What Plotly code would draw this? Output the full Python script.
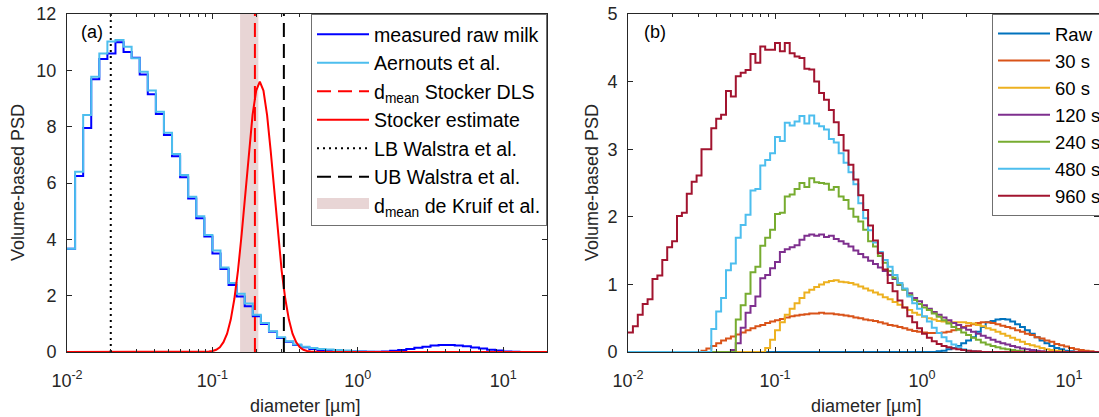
import numpy as np
import plotly.graph_objects as go

# ---------------- data ----------------
D_MIN = 0.01                      # first bin edge [um]
LEFT_BINS_PER_DECADE = 18         # panel (a) size classes
RIGHT_BINS_PER_DECADE = 30        # panel (b) size classes
LEFT_NBINS = 60
RIGHT_NBINS = 100

# panel (a): volume-based PSD per size class
AERNOUTS = [3.67, 6.40, 8.41, 9.77, 10.60, 11.02, 11.08, 10.84, 10.43, 9.95,
            9.28, 8.53, 7.78, 7.03, 6.28, 5.51, 4.82, 4.15, 3.60, 3.00,
            2.45, 2.07, 1.72, 1.32, 1.03, 0.74, 0.52, 0.38, 0.27, 0.19,
            0.14, 0.11, 0.09, 0.07, 0.05, 0.03, 0.02, 0.01]
MEASURED = [3.67, 6.25, 7.95, 9.68, 10.40, 10.60, 11.00, 10.65, 10.45, 9.85,
            9.15, 8.45, 7.70, 6.95, 6.20, 5.45, 4.75, 4.10, 3.50, 2.95,
            2.38, 1.97, 1.62, 1.27, 0.99, 0.72, 0.50, 0.36, 0.25, 0.17,
            0.11, 0.07, 0.05, 0.04, 0.03, 0.02, 0.02, 0.01, 0.01, 0.02,
            0.04, 0.07, 0.11, 0.15, 0.19, 0.23, 0.25, 0.25, 0.23, 0.20,
            0.16, 0.12, 0.08, 0.05, 0.02, 0.01]

STOCKER_D = [0.01, 0.085, 0.0946, 0.1002, 0.1062, 0.1125, 0.1191, 0.1262, 0.1337,
             0.1416, 0.1500, 0.1589, 0.1683, 0.1782, 0.1888, 0.2000, 0.2118,
             0.2244, 0.2377, 0.2518, 0.2667, 0.2825, 0.2992, 0.3170, 0.3357,
             0.3556, 0.3767, 0.3990, 0.4227, 0.4477, 0.4742, 0.56, 20.0]
STOCKER_PSD = [0, 0, 0.014, 0.035, 0.08, 0.17, 0.35, 0.65, 1.15,
               1.89, 2.90, 4.18, 5.64, 7.12, 8.41, 9.28, 9.60,
               9.28, 8.41, 7.12, 5.64, 4.18, 2.90, 1.89, 1.15,
               0.65, 0.35, 0.17, 0.08, 0.035, 0.014, 0, 0]

D_MEAN_STOCKER_DLS = 0.196
LB_WALSTRA = 0.02
UB_WALSTRA = 0.31
D_MEAN_DE_KRUIF = [0.155, 0.207]

# panel (b): series given as (first non-zero class, values)
RIGHT_LABELS = ["Raw", "30 s", "60 s", "120 s", "240 s", "480 s", "960 s"]
RIGHT_START = [63, 15, 28, 21, 22, 17, 0]
PSD_RAW = [0.01, 0.02, 0.04, 0.06, 0.09, 0.13, 0.17, 0.22, 0.30, 0.37, 0.44, 0.46,
           0.48, 0.49, 0.48, 0.45, 0.41, 0.37, 0.32, 0.27, 0.22, 0.17, 0.13, 0.09,
           0.06, 0.04, 0.02, 0.01]
PSD_30 = [0.02, 0.05, 0.09, 0.13, 0.17, 0.20, 0.23, 0.26, 0.29, 0.32, 0.35, 0.38,
          0.40, 0.43, 0.45, 0.47, 0.49, 0.51, 0.53, 0.54, 0.55, 0.56, 0.57, 0.57,
          0.58, 0.57, 0.57, 0.56, 0.55, 0.54, 0.53, 0.51, 0.50, 0.48, 0.47, 0.46,
          0.44, 0.42, 0.40, 0.39, 0.37, 0.35, 0.33, 0.31, 0.30, 0.29, 0.28, 0.28,
          0.28, 0.29, 0.30, 0.32, 0.34, 0.37, 0.39, 0.41, 0.43, 0.44, 0.44, 0.43,
          0.41, 0.39, 0.37, 0.35, 0.32, 0.30, 0.27, 0.25, 0.22, 0.20, 0.17, 0.15,
          0.12, 0.10, 0.08, 0.06, 0.04, 0.03, 0.02, 0.01]
PSD_60 = [0.06, 0.18, 0.32, 0.44, 0.55, 0.64, 0.72, 0.80, 0.88, 0.92, 0.96, 1.00,
          1.03, 1.05, 1.06, 1.04, 1.03, 1.02, 1.00, 0.97, 0.94, 0.91, 0.88, 0.85,
          0.81, 0.78, 0.74, 0.70, 0.66, 0.62, 0.58, 0.55, 0.52, 0.50, 0.48, 0.46,
          0.45, 0.44, 0.44, 0.44, 0.44, 0.43, 0.42, 0.40, 0.38, 0.35, 0.33, 0.30,
          0.27, 0.24, 0.21, 0.18, 0.15, 0.12, 0.10, 0.08, 0.06, 0.04, 0.03, 0.02,
          0.01]
PSD_120 = [0.03, 0.13, 0.36, 0.58, 0.68, 0.82, 1.09, 1.14, 1.24, 1.33, 1.48, 1.52,
           1.55, 1.58, 1.66, 1.72, 1.74, 1.72, 1.74, 1.70, 1.72, 1.67, 1.64, 1.60,
           1.56, 1.50, 1.45, 1.40, 1.35, 1.30, 1.25, 1.20, 1.14, 1.08, 0.99, 0.93,
           0.87, 0.80, 0.75, 0.69, 0.64, 0.59, 0.55, 0.51, 0.47, 0.43, 0.40, 0.36,
           0.33, 0.30, 0.27, 0.24, 0.21, 0.18, 0.15, 0.13, 0.11, 0.09, 0.07, 0.05,
           0.04, 0.03, 0.02, 0.01]
PSD_240 = [0.48, 0.69, 0.86, 1.18, 1.26, 1.57, 1.69, 1.81, 2.04, 2.06, 2.30, 2.33,
           2.41, 2.50, 2.44, 2.57, 2.51, 2.50, 2.49, 2.40, 2.44, 2.30, 2.25, 2.12,
           2.00, 1.93, 1.81, 1.64, 1.56, 1.42, 1.32, 1.20, 1.10, 1.00, 0.92, 0.84,
           0.77, 0.71, 0.66, 0.62, 0.57, 0.52, 0.47, 0.42, 0.37, 0.33, 0.29, 0.25,
           0.21, 0.18, 0.14, 0.11, 0.09, 0.07, 0.05, 0.04, 0.03, 0.02, 0.01]
PSD_480 = [0.34, 0.60, 0.80, 1.21, 1.31, 1.69, 1.88, 2.03, 2.39, 2.41, 2.76, 2.84,
           2.94, 3.18, 3.12, 3.39, 3.35, 3.41, 3.49, 3.38, 3.50, 3.38, 3.34, 3.29,
           3.15, 3.10, 2.94, 2.80, 2.66, 2.48, 2.20, 1.98, 1.80, 1.62, 1.48, 1.36,
           1.26, 1.14, 1.02, 0.94, 0.82, 0.72, 0.64, 0.53, 0.45, 0.36, 0.28, 0.22,
           0.16, 0.11, 0.07, 0.04, 0.02, 0.01]
PSD_960 = [0.29, 0.38, 0.55, 0.71, 0.78, 1.08, 1.13, 1.36, 1.55, 1.64, 2.01, 2.06,
           2.34, 2.52, 2.61, 3.00, 3.00, 3.31, 3.45, 3.51, 3.86, 3.78, 4.08, 4.13,
           4.17, 4.41, 4.28, 4.52, 4.47, 4.47, 4.57, 4.45, 4.57, 4.42, 4.37, 4.35,
           4.19, 4.18, 4.00, 3.83, 3.73, 3.58, 3.40, 3.21, 2.98, 2.77, 2.55, 2.32,
           2.10, 1.87, 1.65, 1.46, 1.22, 1.02, 0.90, 0.76, 0.66, 0.53, 0.44, 0.35,
           0.27, 0.21, 0.16, 0.12, 0.09, 0.07, 0.05, 0.04, 0.03, 0.02, 0.01, 0.01]
RIGHT_SERIES = [PSD_RAW, PSD_30, PSD_60, PSD_120, PSD_240, PSD_480, PSD_960]

X_TICKS = [0.01, 0.1, 1, 10]
X_TICKTEXT = ["10<sup>-2</sup>", "10<sup>-1</sup>", "10<sup>0</sup>", "10<sup>1</sup>"]
X_MINOR = [m * 10.0 ** e for e in (-2, -1, 0, 1) for m in range(2, 10)]

# ---------------- styling ----------------
AX = "#262626"
FONT = "Liberation Sans, Arial, sans-serif"
RIGHT_COLORS = ["#0072BD", "#D95319", "#EDB120", "#7E2F8E", "#77AC30", "#4DBEEE", "#A2142F"]
BAND = "#E8D5D5"

W, H = 1099, 417
ML, MR, MT, MB = 67, 0, 14, 65
PW = W - ML - MR
PH = H - MT - MB
LEFT_W = 480
RIGHT_X0 = 628


def padded(start, vals, n):
    out = [0.0] * n
    out[start:start + len(vals)] = vals
    return out


def stairs(edges, vals):
    return list(edges), list(vals) + [vals[-1]]


edges_l = D_MIN * 10.0 ** (np.arange(LEFT_NBINS + 1) / LEFT_BINS_PER_DECADE)
edges_r = D_MIN * 10.0 ** (np.arange(RIGHT_NBINS + 1) / RIGHT_BINS_PER_DECADE)

fig = go.Figure()

# ---- panel (a) ----
kx0, kx1 = D_MEAN_DE_KRUIF
fig.add_trace(go.Scatter(
    x=[kx0, kx1, kx1, kx0, kx0], y=[0, 0, 12, 12, 0], fill="toself",
    fillcolor=BAND, line=dict(width=0, color=BAND), mode="lines",
    showlegend=False, hoverinfo="skip", xaxis="x", yaxis="y"))
# legend entry of the band
fig.add_trace(go.Scatter(
    x=[None], y=[None], fill="toself", fillcolor=BAND, mode="lines",
    line=dict(width=10, color=BAND),
    name="d<sub>mean</sub> de Kruif et al.", legendrank=7,
    legend="legend", xaxis="x", yaxis="y"))

xs, ys = stairs(edges_l, padded(0, MEASURED, LEFT_NBINS))
fig.add_trace(go.Scatter(x=xs, y=ys, mode="lines", line=dict(color="#0000FF", width=2, shape="hv"),
                         name="measured raw milk", legendrank=1,
                         legend="legend", xaxis="x", yaxis="y"))
xs, ys = stairs(edges_l, padded(0, AERNOUTS, LEFT_NBINS))
fig.add_trace(go.Scatter(x=xs, y=ys, mode="lines", line=dict(color="#4DBEEE", width=2, shape="hv"),
                         name="Aernouts et al.", legendrank=2,
                         legend="legend", xaxis="x", yaxis="y"))
fig.add_trace(go.Scatter(x=[D_MEAN_STOCKER_DLS] * 2, y=[0, 12], mode="lines",
                         line=dict(color="#FF0000", width=2, dash="14px,7px"),
                         name="d<sub>mean</sub> Stocker DLS", legendrank=3,
                         legend="legend", xaxis="x", yaxis="y"))
fig.add_trace(go.Scatter(x=STOCKER_D, y=STOCKER_PSD, mode="lines",
                         line=dict(color="#FF0000", width=2),
                         name="Stocker estimate", legendrank=4,
                         legend="legend", xaxis="x", yaxis="y"))
fig.add_trace(go.Scatter(x=[LB_WALSTRA] * 2, y=[0, 12], mode="lines",
                         line=dict(color="#000000", width=2, dash="2px,4px"),
                         name="LB Walstra et al.", legendrank=5,
                         legend="legend", xaxis="x", yaxis="y"))
fig.add_trace(go.Scatter(x=[UB_WALSTRA] * 2, y=[0, 12], mode="lines",
                         line=dict(color="#000000", width=2, dash="14px,7px"),
                         name="UB Walstra et al.", legendrank=6,
                         legend="legend", xaxis="x", yaxis="y"))

# ---- panel (b) ----
for i, (lab, st, vals, col) in enumerate(zip(RIGHT_LABELS, RIGHT_START, RIGHT_SERIES, RIGHT_COLORS)):
    xs, ys = stairs(edges_r, padded(st, vals, RIGHT_NBINS))
    fig.add_trace(go.Scatter(x=xs, y=ys, mode="lines", line=dict(color=col, width=2, shape="hv"),
                             name=lab, legend="legend2", xaxis="x2", yaxis="y2"))

axis_common = dict(showline=True, linecolor=AX, linewidth=1, mirror="allticks",
                   ticks="inside", ticklen=5, tickcolor=AX, tickwidth=1,
                   showgrid=False, zeroline=False,
                   tickfont=dict(family=FONT, size=18, color=AX))
xcommon = dict(axis_common, type="log", tickmode="array", tickvals=X_TICKS, ticktext=X_TICKTEXT,
               minor=dict(tickmode="array", tickvals=X_MINOR, ticks="inside", ticklen=3,
                          tickcolor=AX, showgrid=False),
               ticklabelstandoff=12)

right_max = -2 + (W - RIGHT_X0) / 147.0
fig.update_layout(
    width=W, height=H,
    margin=dict(l=ML, r=MR, t=MT, b=MB, autoexpand=False),
    paper_bgcolor="white", plot_bgcolor="white",
    font=dict(family=FONT, size=18, color=AX),
    xaxis=dict(xcommon, domain=[0, LEFT_W / PW], range=[-2, np.log10(20)], anchor="y"),
    yaxis=dict(axis_common, range=[0, 12], dtick=2, anchor="x", ticklabelstandoff=6),
    xaxis2=dict(xcommon, domain=[(RIGHT_X0 - ML) / PW, 1], range=[-2, right_max], anchor="y2"),
    yaxis2=dict(axis_common, range=[0, 5], dtick=1, anchor="x2", ticklabelstandoff=6),
    legend=dict(x=LEFT_W / PW, xanchor="right", y=1, yanchor="top",
                bordercolor="#707070", borderwidth=1, bgcolor="white",
                font=dict(family=FONT, size=19.6, color="#000000"),
                traceorder="normal", itemwidth=52),
    legend2=dict(x=(992 - ML) / PW, xanchor="left", y=1, yanchor="top",
                 bordercolor="#707070", borderwidth=1, bgcolor="white",
                 font=dict(family=FONT, size=18.5, color="#000000"),
                 traceorder="normal", itemwidth=52),
    annotations=[
        dict(text="Volume-based PSD", x=(18 - ML) / PW, y=0.5, xref="paper", yref="paper",
             textangle=-90, showarrow=False, xanchor="center", yanchor="middle",
             font=dict(family=FONT, size=18, color=AX)),
        dict(text="Volume-based PSD", x=(592 - ML) / PW, y=0.5, xref="paper", yref="paper",
             textangle=-90, showarrow=False, xanchor="center", yanchor="middle",
             font=dict(family=FONT, size=18, color=AX)),
        dict(text="diameter [µm]", x=(305 - ML) / PW, y=(MT + PH - 406) / PH, xref="paper", yref="paper",
             showarrow=False, xanchor="center", yanchor="middle",
             font=dict(family=FONT, size=18, color=AX)),
        dict(text="diameter [µm]", x=(866 - ML) / PW, y=(MT + PH - 406) / PH, xref="paper", yref="paper",
             showarrow=False, xanchor="center", yanchor="middle",
             font=dict(family=FONT, size=18, color=AX)),
        dict(text="(a)", x=(79 - ML) / PW, y=(MT + PH - 32) / PH, xref="paper", yref="paper",
             showarrow=False, xanchor="left", yanchor="middle",
             font=dict(family=FONT, size=18, color="#000000")),
        dict(text="(b)", x=(642 - ML) / PW, y=(MT + PH - 32) / PH, xref="paper", yref="paper",
             showarrow=False, xanchor="left", yanchor="middle",
             font=dict(family=FONT, size=18, color="#000000")),
    ],
)

fig.write_html("out.html")
